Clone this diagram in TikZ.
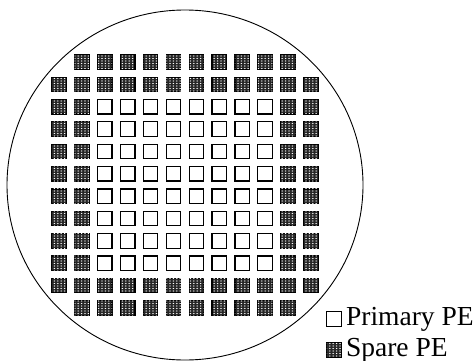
\documentclass[tikz,border=0pt]{standalone}
\usepackage{fontspec}
\setmainfont{Liberation Serif}
\usetikzlibrary{patterns, positioning}

\pgfdeclarepatternformonly{sparedots}{\pgfpoint{-1pt}{-1pt}}{\pgfpoint{1pt}{1pt}}{\pgfpoint{3.4pt}{2.5pt}}{
    \pgfpathellipse{\pgfpointorigin}{\pgfpoint{0.85pt}{0pt}}{\pgfpoint{0pt}{0.6pt}}
    \pgfusepath{fill}
}

\begin{document}
\begin{tikzpicture}[
    x=1pt, y=-1pt,
    pe/.style={
        rectangle,
        draw=black,
        line width=1.2pt,
        minimum size=14.5pt,
        inner sep=0pt
    },
    primary/.style={pe, fill=white},
    spare/.style={pe, fill=black!85,
        postaction={pattern=sparedots, pattern color=white}},
    keytext/.style={font=\fontsize{27.5}{27.5}\selectfont, anchor=west, inner sep=0pt}
]

\useasboundingbox (0, 0) rectangle (476, 361);

% wafer outline
\draw[line width=0.9pt] (185, 185) ellipse [x radius=178, y radius=175];

% top and bottom rows of spares
\foreach \c in {2,...,11} {
    \node[spare] (pe-1-\c) at ({59 + (\c-1)*22.9}, 62) {};
    \node[spare] (pe-12-\c) at ({59 + (\c-1)*22.9}, 308) {};
}
% full rows of spares
\foreach \c in {1,...,12} {
    \node[spare] (pe-2-\c) at ({59 + (\c-1)*22.9}, {62 + 22.36}) {};
    \node[spare] (pe-11-\c) at ({59 + (\c-1)*22.9}, {62 + 10*22.36}) {};
}
% inner rows: two spares each side, primaries inside
\foreach \r in {3,...,10} {
    \foreach \c in {1,2,11,12}
        \node[spare] (pe-\r-\c) at ({59 + (\c-1)*22.9}, {62 + (\r-1)*22.36}) {};
    \foreach \c in {3,...,10}
        \node[primary] (pe-\r-\c) at ({59 + (\c-1)*22.9}, {62 + (\r-1)*22.36}) {};
}

% legend
\node[primary] (keyprimary) at (334, 319) {};
\node[keytext, right=4pt of keyprimary] (keyprimarytext) {Primary PE};
\node[spare] (keyspare) at (334, 350) {};
\node[keytext, right=4pt of keyspare] (keysparetext) {Spare PE};

\end{tikzpicture}
\end{document}
